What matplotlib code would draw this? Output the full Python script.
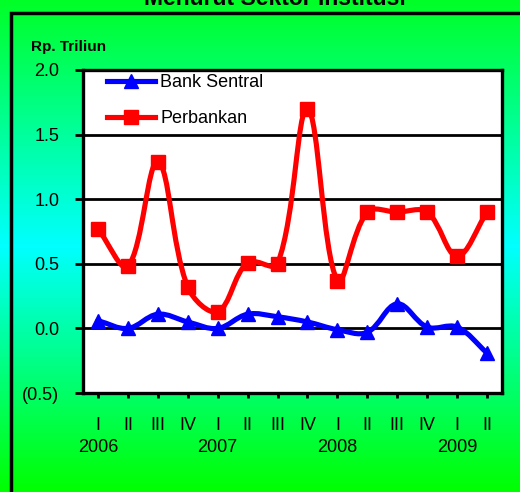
import numpy as np
import matplotlib
matplotlib.use("Agg")
import matplotlib.pyplot as plt
from matplotlib.path import Path
from matplotlib.patches import PathPatch, Rectangle
from matplotlib.colors import LinearSegmentedColormap
from matplotlib.lines import Line2D

plt.rcParams['font.family'] = ['Liberation Sans', 'DejaVu Sans']

quarters = ["I", "II", "III", "IV", "I", "II", "III", "IV",
            "I", "II", "III", "IV", "I", "II"]
years = ["2006", "2007", "2008", "2009"]
year_pos = [0, 4, 8, 12]
bank_sentral = [0.06, 0.00, 0.11, 0.05, 0.00, 0.11, 0.09, 0.05,
                -0.01, -0.03, 0.19, 0.01, 0.01, -0.19]
perbankan = [0.77, 0.48, 1.29, 0.32, 0.13, 0.51, 0.50, 1.70,
             0.37, 0.90, 0.90, 0.90, 0.56, 0.90]
yticks = [-0.5, 0.0, 0.5, 1.0, 1.5, 2.0]
ytick_labels = ["(0.5)", "0.0", "0.5", "1.0", "1.5", "2.0"]

W, H = 520, 492
fig = plt.figure(figsize=(W / 100, H / 100), dpi=100)

# gradient background
bg = fig.add_axes([0, 0, 1, 1], zorder=-10)
cmap = LinearSegmentedColormap.from_list(
    "g", [(0.0, (0.0, 1.0, 0.0)), (0.5, (0.0, 1.0, 1.0)), (1.0, (0.0, 1.0, 0.15))])
grad = np.linspace(0, 1, 256).reshape(-1, 1)
bg.imshow(grad, aspect="auto", cmap=cmap, extent=[0, 1, 0, 1], origin="lower")
bg.set_xlim(0, 1)
bg.set_ylim(0, 1)
bg.axis("off")
fig.patches.append(Rectangle((10.5 / W, -0.05), 1.2, 1 - 12.5 / H + 0.05,
                             transform=fig.transFigure, fill=False,
                             edgecolor="black", linewidth=2.5, zorder=-5))

fig.text(275 / W, 1 - 5 / H, "Menurut Sektor Institusi", ha="center", va="baseline",
         fontsize=16.5, fontweight="bold")
fig.text(31 / W, 1 - 47 / H, "Rp. Triliun", ha="left", va="center",
         fontsize=11, fontweight="bold")

ax = fig.add_axes([83 / W, 99 / H, 419 / W, 323 / H])
ax.set_facecolor("white")
ax.set_xlim(-0.5, 13.5)
ax.set_ylim(-0.5, 2.0)
x = np.arange(len(quarters))

# pixel scale of the axes, for Excel-like length-weighted smoothing
sx = 419 / 14.0
sy = 323 / 2.5


def smooth_path(xs, ys, t=0.36):
    pts = np.column_stack([np.asarray(xs, float) * sx, np.asarray(ys, float) * sy])
    n = len(pts)
    before = [None] * n
    after = [None] * n
    for i in range(n):
        p0 = pts[i - 1] if i > 0 else pts[i]
        p2 = pts[i + 1] if i < n - 1 else pts[i]
        d1 = np.hypot(*(pts[i] - p0))
        d2 = np.hypot(*(p2 - pts[i]))
        tot = d1 + d2 if d1 + d2 > 0 else 1.0
        tan = p2 - p0
        before[i] = pts[i] - tan * t * d1 / tot
        after[i] = pts[i] + tan * t * d2 / tot
    verts = [pts[0]]
    codes = [Path.MOVETO]
    for i in range(n - 1):
        verts += [after[i], before[i + 1], pts[i + 1]]
        codes += [Path.CURVE4] * 3
    verts = np.array(verts)
    verts[:, 0] /= sx
    verts[:, 1] /= sy
    return Path(verts, codes)


LW = 3.7
for vals, col, mk, ms in [(perbankan, "#FF0000", "s", 9.5), (bank_sentral, "#0000FF", "^", 10.5)]:
    ax.add_patch(PathPatch(smooth_path(x, vals), facecolor="none", edgecolor=col,
                           linewidth=LW, zorder=3, capstyle="round", joinstyle="round"))
    ax.plot(x, vals, linestyle="none", marker=mk, color=col, markersize=ms, zorder=4)

ax.set_yticks(yticks)
ax.set_yticklabels(ytick_labels, fontsize=13)
ax.set_xticks(x)
ax.set_xticklabels(quarters, fontsize=13)
ax.tick_params(axis="y", length=6, width=2, pad=11)
ax.tick_params(axis="x", length=3.6, width=2, pad=14)
for yy in yticks[1:-1]:
    ax.axhline(yy, color="black", linewidth=2.0, zorder=1)
for s in ax.spines.values():
    s.set_linewidth(2.4)
for xp, yr in zip(year_pos, years):
    ax.annotate(yr, xy=(xp, 0), xycoords=("data", "axes fraction"),
                xytext=(0, -54), textcoords="offset pixels",
                ha="center", va="center", fontsize=13)

handles = [Line2D([], [], color="#0000FF", marker="^", markersize=10.5, linewidth=LW),
           Line2D([], [], color="#FF0000", marker="s", markersize=9.5, linewidth=LW)]
ax.legend(handles, ["Bank Sentral", "Perbankan"], loc="upper left",
          bbox_to_anchor=(24 / 419, 1 - 4 / 323), frameon=False, fontsize=13,
          borderpad=0, borderaxespad=0,
          handlelength=2.66, handletextpad=0.28, labelspacing=1.05)

fig.savefig("out.png", dpi=100)
